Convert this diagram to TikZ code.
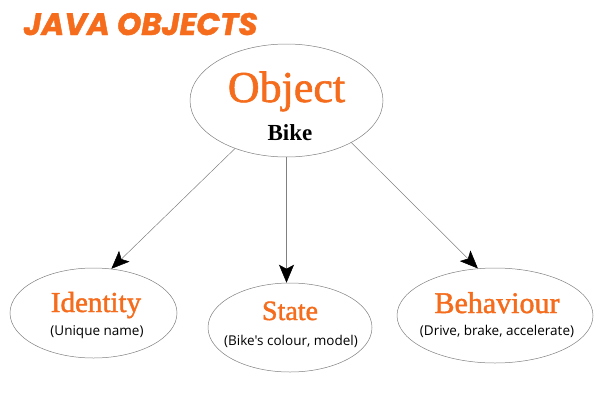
\documentclass[tikz,border=0pt]{standalone}
\usepackage{fontspec}
\usepackage{tikz}
\usetikzlibrary{shapes.geometric,arrows.meta}
\setmainfont{Liberation Serif}
\newfontfamily\headfont[FakeBold=1.4]{Liberation Serif}
\newfontfamily\subfont{Open Sans}
\newfontfamily\titlefont[BoldItalicFeatures={FakeBold=1.5}]{Poppins}
\definecolor{javaorange}{RGB}{245,108,28}

\begin{document}
\begin{tikzpicture}[x=1pt,y=-1pt,
      blob/.style = {ellipse, draw=gray, line width=0.5pt, fill=white, inner sep=0pt},
      head/.style = {anchor=base, text=javaorange},
      note/.style = {anchor=base, font=\subfont\fontsize{13.5}{15}\selectfont},
      link/.style = {draw=gray, line width=0.5pt, -{Stealth[length=18pt,width=15pt,inset=4pt,black]}}]
  \useasboundingbox (0,0) rectangle (601,415);

  % Title
  \node[anchor=base west, text=javaorange, font=\titlefont\bfseries\itshape\fontsize{31}{34}\selectfont] (title) at (20,35) {JAVA OBJECTS};

  % Object
  \node[blob, minimum width=193pt, minimum height=113pt] (obj) at (286.5,100.5) {};
  \node[head, font=\headfont\fontsize{44}{48}\selectfont] (objname) at (286.5,102) {Object};
  \node[anchor=base, font=\bfseries\fontsize{23}{26}\selectfont] (bike) at (290,140) {Bike};

  % Identity
  \node[blob, minimum width=167pt, minimum height=90pt] (id) at (93.5,313) {};
  \node[head, font=\headfont\fontsize{29}{32}\selectfont] (idname) at (96,312) {Identity};
  \node[note] (idnote) at (97,335) {(Unique name)};

  % State
  \node[blob, minimum width=164pt, minimum height=89pt] (st) at (290,327.5) {};
  \node[head, font=\headfont\fontsize{28}{32}\selectfont] (stname) at (290,320) {State};
  \node[note] (stnote) at (291,345) {(Bike's colour, model)};

  % Behaviour
  \node[blob, minimum width=196pt, minimum height=95pt] (beh) at (495,315.5) {};
  \node[head, font=\headfont\fontsize{30}{32}\selectfont] (behname) at (497,313) {Behaviour};
  \node[note] (behnote) at (497,335) {(Drive, brake, accelerate)};

  % Arrows
  \draw[link] (obj.223) -- (id.68);
  \draw[link] (obj.south) -- (obj.south |- st.north);
  \draw[link] (obj.327) -- (beh.110);
\end{tikzpicture}
\end{document}
